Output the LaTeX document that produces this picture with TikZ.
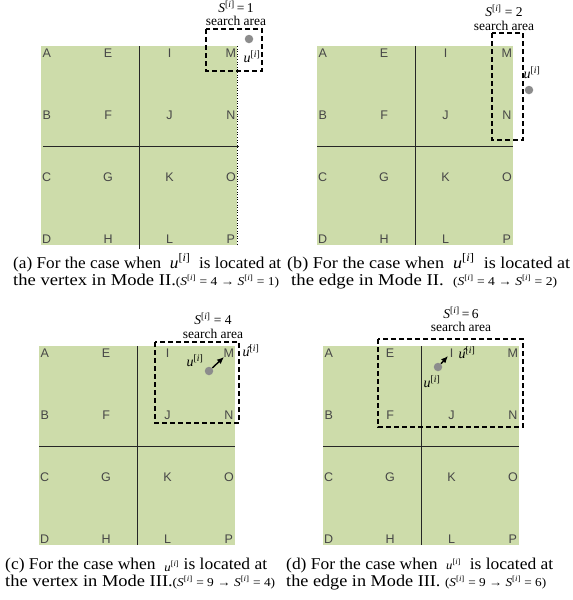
\documentclass[tikz,border=0pt]{standalone}
\usepackage{graphicx}
\usepackage{fontspec}
\setmainfont{Liberation Serif}
\newfontfamily\lsans{Liberation Sans}
\usetikzlibrary{arrows.meta}
\definecolor{gfill}{RGB}{205,220,170}
\definecolor{dotgray}{RGB}{140,140,140}
\newcommand\ui{\textit{u}\textsuperscript{[\textit{i}]}}
\newcommand\Si{\textit{S}\textsuperscript{[\textit{i}]}}
\newcommand\uh{\^{\textit{u}}\textsuperscript{[\textit{i}]}}
\newcommand\smallpar[1]{{\fontsize{12}{12}\selectfont #1}}
\tikzset{
 gridlbl/.style={font=\lsans\fontsize{12.5}{12.5}\selectfont, text=black!72, inner sep=0pt},
 gridline/.style={line width=0.8pt, draw=black!85},
 searchbox/.style={draw=black, line width=1.6pt, dash pattern=on 5pt off 3pt},
 udot/.style={circle, fill=dotgray, inner sep=0pt, minimum size=8.5pt},
 toplbl/.style={font=\fontsize{13.5}{13.5}\selectfont, inner sep=0pt},
 ulbl/.style={font=\fontsize{14}{14}\selectfont, inner sep=0pt},
 capline/.style={font=\fontsize{16.5}{17}\selectfont, inner sep=0pt, anchor=base west},
 moveto/.style={-{Latex[length=7pt,width=6pt]}, line width=1.4pt},
}
\newcommand\gridpanel[5]{%
 \fill[gfill] (#2,#3) rectangle ++(196,199);
 \draw[gridline] ({#2+98},#3) -- ++(0,#4);
 \draw[gridline] ({#2+#5},{#3+100}) -- ++(196,0);
 \foreach \L [count=\n from 0] in {A,B,C,D,E,F,G,H,I,J,K,L,M,N,O,P} {
  \pgfmathtruncatemacro\cx{\n/4}
  \pgfmathtruncatemacro\ry{mod(\n,4)}
  \node[gridlbl] (#1-\L) at ({#2+5.7+61.4*\cx},{#3+6.8+62*\ry}) {\L};
 }
}
\begin{document}
\begin{tikzpicture}[x=1pt,y=-1pt]
\useasboundingbox (0,0) rectangle (573,600);
% ---------- panel (a)
\gridpanel{a}{41}{46}{203}{2}
\draw[dotted, line width=0.6pt] (237,46) -- (237,245);
\draw[searchbox] (206,29) rectangle (262,71);
\node[udot] (a-dot) at (249,39) {};
\node[ulbl] (a-u) at (252,57) {\ui};
\node[toplbl] (a-S) at (236,7) {\Si\,=\,1};
\node[toplbl] (a-sa) at (236,21) {search area};
% ---------- panel (b)
\gridpanel{b}{317}{46}{199}{0}
\draw[searchbox] (492,33) rectangle (523,140);
\node[udot] (b-dot) at (529,90) {};
\node[ulbl] (b-u) at (532,73) {\ui};
\node[toplbl] (b-S) at (504,11) {\Si\ = 2};
\node[toplbl] (b-sa) at (504,26) {search area};
% ---------- panel (c)
\gridpanel{c}{39}{346}{199}{0}
\draw[searchbox] (155,342) rectangle (239,423);
\node[udot] (c-dot) at (209,371) {};
\coordinate (c-tip) at (224,357);
\draw[moveto] (c-dot) -- (c-tip);
\node[ulbl] (c-u) at (195,361) {\ui};
\node[ulbl] (c-uh) at (251,351) {\uh};
\node[toplbl] (c-S) at (213,319) {\Si\ = 4};
\node[toplbl] (c-sa) at (213,334) {search area};
% ---------- panel (d)
\gridpanel{d}{323}{346}{199}{0}
\draw[searchbox] (378,339) rectangle (523,427);
\node[udot] (d-dot) at (438,367) {};
\coordinate (d-tip) at (448,356);
\draw[moveto] (d-dot) -- (d-tip);
\node[ulbl] (d-uh) at (467,353) {\uh};
\node[ulbl] (d-u) at (432,382) {\ui};
\node[toplbl] (d-S) at (461,313) {\Si\,=\,6};
\node[toplbl] (d-sa) at (461,327) {search area};
% ---------- captions
\node[capline] (a-cap1) at (13,268) {\resizebox{268pt}{\height}{(a) For the case when~~\ui~~is located at}};
\node[capline] (a-cap2) at (13,285) {\resizebox{266pt}{\height}{the vertex in Mode II.\smallpar{(\Si\ = 4 → \Si\ = 1)}}};
\node[capline] (b-cap1) at (287,268) {\resizebox{283pt}{\height}{(b) For the case when~~\ui~~is located at}};
\node[capline] (b-cap2) at (291,285) {\resizebox{266pt}{\height}{the edge in Mode II.~~\smallpar{(\Si\ = 4 → \Si\ = 2)}}};
\node[capline] (c-cap1) at (5,569) {\resizebox{262pt}{\height}{(c) For the case when~~\smallpar{\raisebox{-2pt}{\ui}} is located at}};
\node[capline] (c-cap2) at (5,586) {\resizebox{270pt}{\height}{the vertex in Mode III.\smallpar{(\Si\ = 9 → \Si\ = 4)}}};
\node[capline] (d-cap1) at (286,569) {\resizebox{267pt}{\height}{(d) For the case when~~\smallpar{\ui}~~is located at}};
\node[capline] (d-cap2) at (286,586) {\resizebox{260pt}{\height}{the edge in Mode III.~\smallpar{(\Si\ = 9 → \Si\ = 6)}}};
\end{tikzpicture}
\end{document}
